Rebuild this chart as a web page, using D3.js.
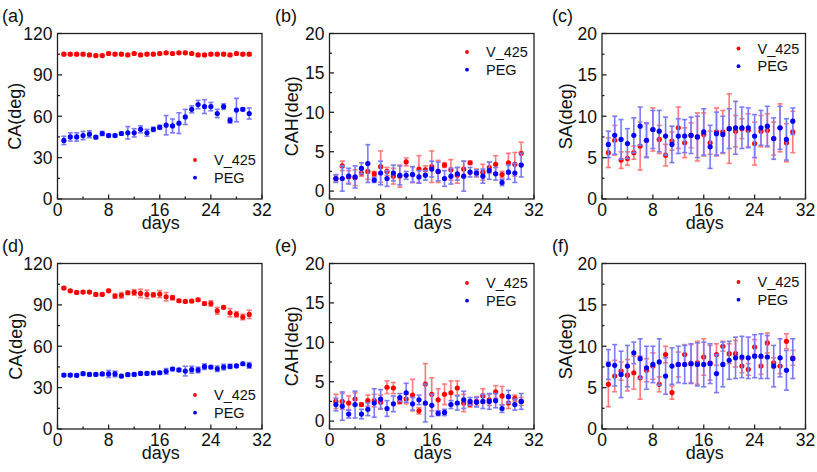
<!DOCTYPE html>
<html><head><meta charset="utf-8">
<script src="https://cdn.jsdelivr.net/npm/d3@7"></script>
<style>body{margin:0;background:#fff}svg{display:block}text{font-family:"Liberation Sans",Arial,sans-serif;fill:#111}</style>
</head><body>
<svg id="c" width="817" height="472"></svg>
<script>
const days = [1,2,3,4,5,6,7,8,9,10,11,12,13,14,15,16,17,18,19,20,21,22,23,24,25,26,27,28,29,30];
const seriesNames = ["V_425","PEG"];
const xTicks = [0,8,16,24,32];
const caTicks = [0,30,60,90,120];
const smallTicks = [0,5,10,15,20];

// (a) CA
const aV = [105,105,105,105,104.5,104,104,105.5,105,105,104.5,105.5,104.5,105,105,105.5,106,105.5,106,106,105.5,104.5,104.5,105,105,105,104.5,105.5,105,105];
const aVerr = [0.8,0.8,0.8,0.8,0.8,0.8,0.8,0.8,0.8,0.8,0.8,0.8,0.8,0.8,0.8,0.8,0.8,0.8,0.8,0.8,0.8,0.8,0.8,0.8,0.8,0.8,0.8,0.8,0.8,0.8];
const aP = [42.5,45,45,46,47,44.8,47.5,46,46,47.5,48,48,50.5,48,50.5,52,53.5,53,55,59.5,65,68.5,67,67,62,67,57,64.5,65,62];
const aPerr = [3,3,3,3,2.5,1,1.5,1,1,1,4.5,3,2.5,2.5,1.5,1.5,7,5,7.5,5.5,2.5,3,5,3,3,2,2,8.5,1,4];
// (b) CAH
const bV = [1.6,3.2,1.8,1.7,2.3,2.5,2.2,3.1,2.5,1.9,1.9,3.7,2.1,2.8,2.7,3.1,2.5,3.3,2.7,2.0,2.8,3.6,2.3,2.4,3.0,3.4,2.1,3.6,3.4,4.8];
const bVerr = [0.4,0.6,0.8,1.0,0.4,1.0,0.3,2.0,0.5,1.0,1.4,0.5,1.0,1.7,0.5,2.0,1.4,0.3,1.3,1.0,1.0,0.2,0.5,1.0,0.7,1.1,0.4,1.2,1.5,1.4];
const bP = [1.6,1.6,1.9,1.8,2.9,3.5,1.4,2.3,1.6,2.3,2.0,2.0,2.1,1.8,2.0,2.8,2.5,1.6,1.9,2.2,1.9,2.4,2.3,1.9,2.6,2.2,1.1,2.4,2.3,3.3];
const bPerr = [0.5,1.6,1.0,1.4,0.7,2.4,0.3,1.5,1.0,1.0,1.2,0.5,1.0,0.8,0.6,1.0,1.2,1.0,1.0,0.8,1.9,0.6,0.4,0.9,1.1,0.8,0.4,0.9,1.2,1.5];
// (c) SA
const cV = [5.6,7.1,4.7,4.9,5.6,6.4,7.1,8.4,7.2,5.3,7.0,8.6,6.8,7.7,7.5,7.8,6.8,8.1,8.1,8.5,8.2,8.5,8.3,6.7,8.2,8.3,7.3,8.6,6.8,8.1];
const cVerr = [1.8,1.8,1.0,0.8,0.8,2.9,2.0,2.6,1.7,1.3,1.1,2.5,1.8,1.5,2.9,2.6,1.4,2.9,2.6,4.2,1.9,1.2,2.0,2.6,1.9,2.0,2.0,2.9,2.3,2.5];
const cP = [6.6,7.7,7.2,6.7,7.7,8.8,7.1,8.4,8.2,7.6,6.6,7.6,7.6,7.7,7.5,8.1,6.3,7.9,7.8,8.5,8.6,8.6,8.6,7.6,8.6,8.8,7.3,8.6,7.2,9.4];
const cPerr = [1.6,2.3,2.4,1.8,2.1,2.3,2.1,2.3,2.5,2.3,2.2,2.1,2.0,2.2,2.5,2.8,2.6,2.6,2.2,2.4,3.2,2.5,2.4,2.6,2.1,2.4,2.5,2.6,2.5,1.6];
// (d) CA
const dV = [102.2,100.2,99,99.3,99.3,97.6,97.6,100.2,96.4,96.9,98.8,99,98.3,97.6,97.3,97.8,95.9,95.2,93,92.5,92.8,93.7,91,91,85.7,88.2,84.3,83.1,81.2,83.1];
const dVerr = [0.8,0.8,0.8,0.8,0.8,1.2,0.8,1,1.5,2,1.2,2,3,3,1.5,2.5,3,1.5,1,0.8,1,1,1,2,2.5,1,3,2,2,3];
const dP = [39.1,39.1,38.9,40.1,39.6,39.6,39.9,39.9,39.9,38.4,39.4,39.6,40.3,40.3,40.6,40.8,41.8,43.5,42.8,42,43,42.8,45.2,44.9,43.7,44.9,45.4,45.7,47.3,46.1];
const dPerr = [1,1,1,1,1,1,1,2.5,2,1,1,1,1,1,1,1,2,1,1,3.5,2.5,2,2,1,2,2,1.5,1,1,2];
// (e) CAH
const eV = [2.5,2.5,2.3,2.8,2.1,2.6,2.6,2.4,4.3,4.2,2.5,2.8,3.3,1.3,4.7,3.4,2.7,3.4,3.6,4.2,2.3,2.1,2.5,3.2,2.7,3.7,3.2,2.3,2.9,2.5];
const eVerr = [0.9,1.0,0.9,0.8,0.2,0.7,0.8,0.9,0.8,0.7,0.3,0.6,2.0,0.4,2.6,2.1,1.4,1.3,1.5,0.9,1.1,0.3,0.6,0.9,0.7,0.8,1.2,0.7,0.4,0.5];
const eP = [2.1,1.9,0.9,2.1,0.9,1.5,2.3,2.8,1.6,2.2,3.0,3.6,2.2,2.7,2.3,2.0,1.0,1.1,2.1,2.3,2.7,2.5,2.4,2.5,2.5,2.6,1.6,3.1,2.1,2.5];
const ePerr = [0.8,1.8,0.5,1.7,0.6,0.8,1.8,1.2,1.0,1.0,0.5,1.2,0.8,0.6,2.4,1.4,0.3,0.4,0.5,0.9,1.1,0.5,0.6,0.9,1.0,0.9,0.5,0.8,0.7,1.0];
// (f) SA
const fV = [5.4,6.4,7.0,6.5,6.8,6.2,7.1,7.6,5.4,9.0,4.4,7.8,9.0,7.9,8.0,8.7,8.0,9.0,10.0,9.1,9.1,7.6,7.2,9.9,7.6,10.4,8.0,7.6,10.6,8.6];
const fVerr = [2.7,1.9,1.1,1.9,2.0,2.6,1.4,1.6,0.9,1.0,0.8,1.5,1.2,2.3,2.6,2.2,2.1,1.3,0.6,1.2,1.6,0.8,0.7,0.9,1.0,1.2,0.6,0.9,0.9,0.9];
const fP = [7.8,7.7,6.6,7.6,9.2,8.5,7.4,7.8,8.1,6.4,7.6,7.8,7.8,7.9,7.8,7.8,7.9,6.7,7.8,8.3,8.6,8.7,8.6,8.8,8.8,8.7,7.6,8.6,7.1,8.5];
const fPerr = [1.8,2.5,2.8,2.5,1.3,2.4,2.6,2.2,2.8,2.2,2.2,2.2,2.3,2.4,2.6,2.7,2.4,2.3,2.7,2.3,2.5,2.5,2.5,2.6,2.7,2.6,2.5,2.3,2.4,2.4];

const colors = ["#ff0000","#0000ff"];
const errColors = ["#ff7a7a","#7a7aff"];

const panels = [
 {lab:"(a)", yl:"CA(deg)",  V:aV,Ve:aVerr,P:aP,Pe:aPerr, yd:[0,120], yt:caTicks, box:[57.5,262,33.5,199], legY:160, labX:2, titleX:15},
 {lab:"(b)", yl:"CAH(deg)", V:bV,Ve:bVerr,P:bP,Pe:bPerr, yd:[-1,20], yt:smallTicks, box:[329.5,534,33.5,199], legY:52, labX:275, titleX:292},
 {lab:"(c)", yl:"SA(deg)",  V:cV,Ve:cVerr,P:cP,Pe:cPerr, yd:[0,20], yt:smallTicks, box:[602,805.5,33.5,199], legY:48.5, labX:552, titleX:565.5},
 {lab:"(d)", yl:"CA(deg)",  V:dV,Ve:dVerr,P:dP,Pe:dPerr, yd:[0,120], yt:caTicks, box:[57.5,262,263.5,429], legY:395, labX:2, titleX:15.5},
 {lab:"(e)", yl:"CAH(deg)", V:eV,Ve:eVerr,P:eP,Pe:ePerr, yd:[-1,20], yt:smallTicks, box:[329.5,534,263.5,429], legY:283, labX:275, titleX:292},
 {lab:"(f)", yl:"SA(deg)",  V:fV,Ve:fVerr,P:fP,Pe:fPerr, yd:[0,20], yt:smallTicks, box:[602,805.5,263.5,429], legY:282, labX:552, titleX:565.5}
];

const svg = d3.select("#c");
panels.forEach(p => {
  const [l,r,t,b] = p.box;
  const x = d3.scaleLinear().domain([0,32]).range([l,r]);
  const y = d3.scaleLinear().domain(p.yd).range([b,t]);
  const g = svg.append("g");
  [[p.V,p.Ve],[p.P,p.Pe]].forEach(([vals,errs],si) => {
    const eg = g.append("g").attr("stroke",errColors[si]).attr("stroke-width",1.6);
    days.forEach((d,i) => {
      const y1 = y(vals[i]-errs[i]), y2 = y(vals[i]+errs[i]), xx = x(d);
      eg.append("line").attr("x1",xx).attr("x2",xx).attr("y1",y1).attr("y2",y2);
      eg.append("line").attr("x1",xx-2.5).attr("x2",xx+2.5).attr("y1",y1).attr("y2",y1);
      eg.append("line").attr("x1",xx-2.5).attr("x2",xx+2.5).attr("y1",y2).attr("y2",y2);
    });
    g.append("g").selectAll("circle").data(days).join("circle")
      .attr("cx",d=>x(d)).attr("cy",(d,i)=>y(vals[i])).attr("r",2.6).attr("fill",colors[si]);
  });
  const minorX = [4,12,20,28];
  const step = p.yt[1]-p.yt[0];
  const minorY = p.yt.slice(0,-1).map(v=>v+step/2);
  const ax = g.append("g").attr("stroke","#222").attr("stroke-width",1.3);
  ax.append("rect").attr("x",l).attr("y",t).attr("width",r-l).attr("height",b-t).attr("fill","none");
  xTicks.forEach(v=>ax.append("line").attr("x1",x(v)).attr("x2",x(v)).attr("y1",b).attr("y2",b-4.5));
  minorX.forEach(v=>ax.append("line").attr("x1",x(v)).attr("x2",x(v)).attr("y1",b).attr("y2",b-2.5));
  p.yt.forEach(v=>ax.append("line").attr("x1",l).attr("x2",l+4.5).attr("y1",y(v)).attr("y2",y(v)));
  minorY.forEach(v=>ax.append("line").attr("x1",l).attr("x2",l+2.5).attr("y1",y(v)).attr("y2",y(v)));
  xTicks.forEach(v=>g.append("text").attr("x",x(v)).attr("y",b+16.5).attr("text-anchor","middle").attr("font-size",17.5).text(v));
  p.yt.forEach(v=>g.append("text").attr("x",l-5).attr("y",y(v)).attr("dy","0.36em").attr("text-anchor","end").attr("font-size",17.5).text(v));
  g.append("text").attr("x",(l+r)/2+1).attr("y",b+30).attr("text-anchor","middle").attr("font-size",18).text("days");
  g.append("text").attr("transform",`translate(${p.titleX},${(t+b)/2}) rotate(-90)`).attr("text-anchor","middle").attr("dy","0.36em").attr("font-size",18).text(p.yl);
  g.append("text").attr("x",p.labX).attr("y",t-18).attr("dy","0.36em").attr("font-size",18).text(p.lab);
  seriesNames.forEach((n,si)=>{
    const ly = p.legY + si*17.7;
    const lx = r-67;
    g.append("circle").attr("cx",lx).attr("cy",ly).attr("r",1.9).attr("fill",colors[si]);
    g.append("text").attr("x",lx+19).attr("y",ly).attr("dy","0.36em").attr("font-size",14.5).text(n);
  });
});
</script>
</body></html>
